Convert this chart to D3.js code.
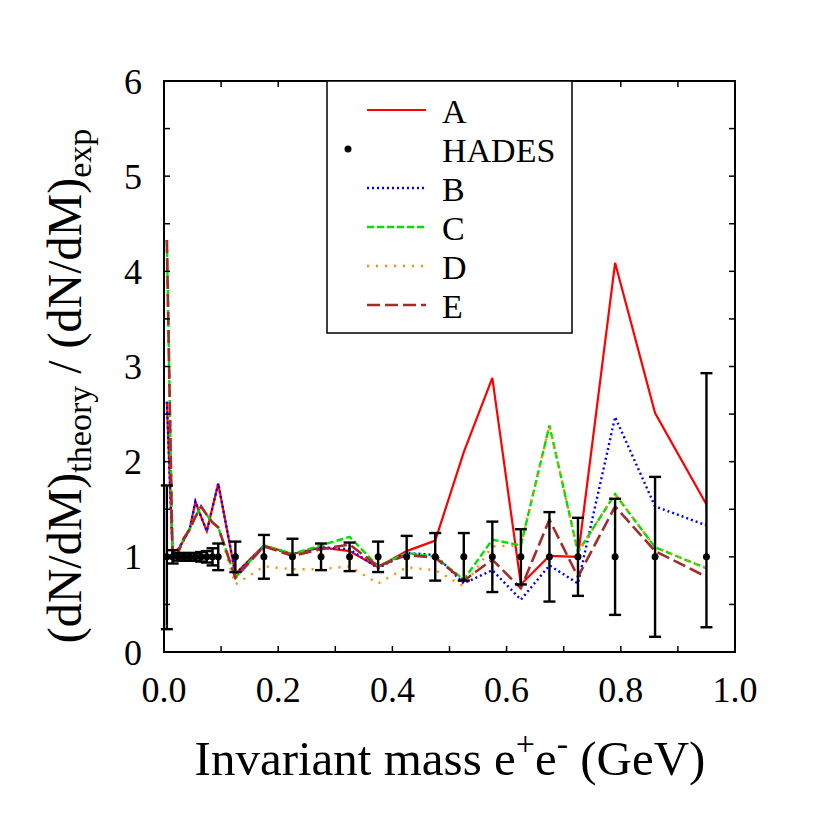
<!DOCTYPE html>
<html><head><meta charset="utf-8">
<script src="https://cdn.jsdelivr.net/npm/d3@7"></script>
<style>html,body{margin:0;padding:0;background:#fff}svg{display:block}</style>
</head><body><svg id="c" width="817" height="817"></svg>
<script>
const mass = [0.005,0.015,0.025,0.035,0.045,0.055,0.065,0.075,0.085,0.095,0.125,0.175,0.225,0.275,0.325,0.375,0.425,0.475,0.525,0.575,0.625,0.675,0.725,0.79,0.86,0.95];
const hades = [1,1,1,1,1,1,1,1,1,1,1,1,1,1,1,1,1,1,1,1,1,1,1,1,1,1];
const errLow = [0.76,0.07,0.04,0.04,0.04,0.04,0.05,0.06,0.09,0.14,0.16,0.23,0.19,0.14,0.15,0.16,0.22,0.25,0.25,0.37,0.29,0.47,0.41,0.61,0.84,0.74];
const errHigh = [0.75,0.07,0.04,0.04,0.04,0.04,0.05,0.06,0.09,0.14,0.16,0.23,0.19,0.14,0.15,0.16,0.22,0.25,0.25,0.37,0.29,0.47,0.41,0.61,0.84,1.93];
const seriesA = [2.63,1.06,1.08,1.18,1.29,1.58,1.42,1.27,1.52,1.77,0.82,1.12,1.03,1.10,1.06,0.89,1.06,1.17,2.10,2.88,0.71,1.01,1.00,4.09,2.51,1.55];
const seriesB = [2.63,1.06,1.08,1.18,1.29,1.58,1.42,1.27,1.52,1.77,0.82,1.11,1.03,1.10,1.08,0.88,1.04,1.02,0.72,0.86,0.55,0.91,0.72,2.47,1.53,1.33];
const seriesC = [4.33,0.97,1.05,1.20,1.29,1.42,1.53,1.44,1.36,1.31,0.78,1.12,1.03,1.12,1.21,0.90,1.04,1.00,0.76,1.18,1.12,2.38,1.05,1.66,1.10,0.88];
const seriesD = [4.33,0.97,1.05,1.20,1.29,1.42,1.53,1.44,1.36,1.31,0.71,0.90,0.87,0.87,0.90,0.72,0.89,0.86,0.69,1.11,1.12,2.38,1.05,1.66,1.10,0.88];
const seriesE = [4.33,0.97,1.05,1.20,1.29,1.42,1.53,1.44,1.36,1.31,0.78,1.11,1.01,1.08,1.13,0.90,1.02,0.99,0.75,0.97,0.67,1.39,0.79,1.53,1.06,0.79];
const xTicks = [0,0.1,0.2,0.3,0.4,0.5,0.6,0.7,0.8,0.9,1.0];
const xTickLabels = ["0.0","0.2","0.4","0.6","0.8","1.0"];
const yTicks = [0,0.5,1,1.5,2,2.5,3,3.5,4,4.5,5,5.5,6];
const yTickLabels = ["0","1","2","3","4","5","6"];
const legendNames = ["A","HADES","B","C","D","E"];

const FONT = "'Liberation Serif', 'DejaVu Serif', serif";
const svg = d3.select("#c");
const L=164,R=735,T=81,B=652;
const x = d3.scaleLinear().domain([0,1]).range([L,R]);
const y = d3.scaleLinear().domain([0,6]).range([B,T]);

const styles = {
  A:{color:"#ff0000",dash:null,w:2.2},
  B:{color:"#0000ff",dash:"2,3",w:2.4},
  C:{color:"#00e000",dash:"7,3",w:2.4},
  D:{color:"#ff8c00",dash:"2,7",w:2.4},
  E:{color:"#a52a2a",dash:"13,5",w:2.6}
};
const series = {A:seriesA,B:seriesB,C:seriesC,D:seriesD,E:seriesE};

svg.append("clipPath").attr("id","pc").append("rect")
  .attr("x",L).attr("y",T).attr("width",R-L).attr("height",B-T);

const line = d3.line().x((d,i)=>x(mass[i])).y(d=>y(d));
const g = svg.append("g").attr("clip-path","url(#pc)");
["A","B","C","D","E"].forEach(k=>{
  g.append("path").datum(series[k]).attr("d",line)
    .attr("fill","none").attr("stroke",styles[k].color)
    .attr("stroke-width",styles[k].w)
    .attr("stroke-dasharray",styles[k].dash);
});

// HADES error bars
const hg = svg.append("g");
mass.forEach((m,i)=>{
  const cx=x(m), y0=y(hades[i]-errLow[i]), y1=y(hades[i]+errHigh[i]);
  hg.append("line").attr("x1",cx).attr("x2",cx).attr("y1",y0).attr("y2",y1).attr("stroke","#000").attr("stroke-width",2.4);
  [y0,y1].forEach(yy=>hg.append("line").attr("x1",cx-6).attr("x2",cx+6).attr("y1",yy).attr("y2",yy).attr("stroke","#000").attr("stroke-width",2.4));
  hg.append("circle").attr("cx",cx).attr("cy",y(hades[i])).attr("r",3.5).attr("fill","#000");
});

// frame and ticks
svg.append("rect").attr("x",L).attr("y",T).attr("width",R-L).attr("height",B-T)
  .attr("fill","none").attr("stroke","#000").attr("stroke-width",2);
xTicks.forEach(t=>{
  svg.append("line").attr("x1",x(t)).attr("x2",x(t)).attr("y1",B).attr("y2",B-6).attr("stroke","#000").attr("stroke-width",1.5);
  svg.append("line").attr("x1",x(t)).attr("x2",x(t)).attr("y1",T).attr("y2",T+6).attr("stroke","#000").attr("stroke-width",1.5);
});
yTicks.forEach(t=>{
  svg.append("line").attr("x1",L).attr("x2",L+6).attr("y1",y(t)).attr("y2",y(t)).attr("stroke","#000").attr("stroke-width",1.5);
  svg.append("line").attr("x1",R).attr("x2",R-6).attr("y1",y(t)).attr("y2",y(t)).attr("stroke","#000").attr("stroke-width",1.5);
});
xTickLabels.forEach(s=>{
  svg.append("text").attr("font-family",FONT).attr("x",x(+s)).attr("y",702).attr("text-anchor","middle").attr("font-size",36).text(s);
});
yTickLabels.forEach(s=>{
  svg.append("text").attr("font-family",FONT).attr("x",142).attr("y",y(+s)).attr("dy","0.35em").attr("text-anchor","end").attr("font-size",36).text(s);
});

// axis titles
const xt = svg.append("text").attr("font-family",FONT).attr("x",450).attr("y",775).attr("text-anchor","middle").attr("font-size",49);
xt.append("tspan").text("Invariant mass e");
xt.append("tspan").attr("font-size",34).attr("dy",-20).text("+");
xt.append("tspan").attr("dy",20).text("e");
xt.append("tspan").attr("font-size",34).attr("dy",-20).text("-");
xt.append("tspan").attr("dy",20).text(" (GeV)");

const yt = svg.append("text").attr("font-family",FONT).attr("transform","translate(81,386) rotate(-90)").attr("text-anchor","middle").attr("font-size",48);
yt.append("tspan").text("(dN/dM)");
yt.append("tspan").attr("font-size",34).attr("dy",10).text("theory");
yt.append("tspan").attr("dy",-10).text(" / (dN/dM)");
yt.append("tspan").attr("font-size",34).attr("dy",10).text("exp");

// legend
svg.append("rect").attr("x",327).attr("y",T).attr("width",245).attr("height",252)
  .attr("fill","#fff").attr("stroke","#000").attr("stroke-width",1.5);
legendNames.forEach((n,i)=>{
  const ly = 111 + i*39;
  if(n==="HADES"){
    svg.append("circle").attr("cx",348).attr("cy",ly-1).attr("r",3.5).attr("fill","#000");
  } else {
    svg.append("line").attr("x1",367).attr("x2",426).attr("y1",ly-1).attr("y2",ly-1)
      .attr("stroke",styles[n].color).attr("stroke-width",styles[n].w).attr("stroke-dasharray",styles[n].dash);
  }
  svg.append("text").attr("font-family",FONT).attr("x",442).attr("y",ly).attr("dy","0.35em").attr("font-size",34).text(n);
});
</script></body></html>
